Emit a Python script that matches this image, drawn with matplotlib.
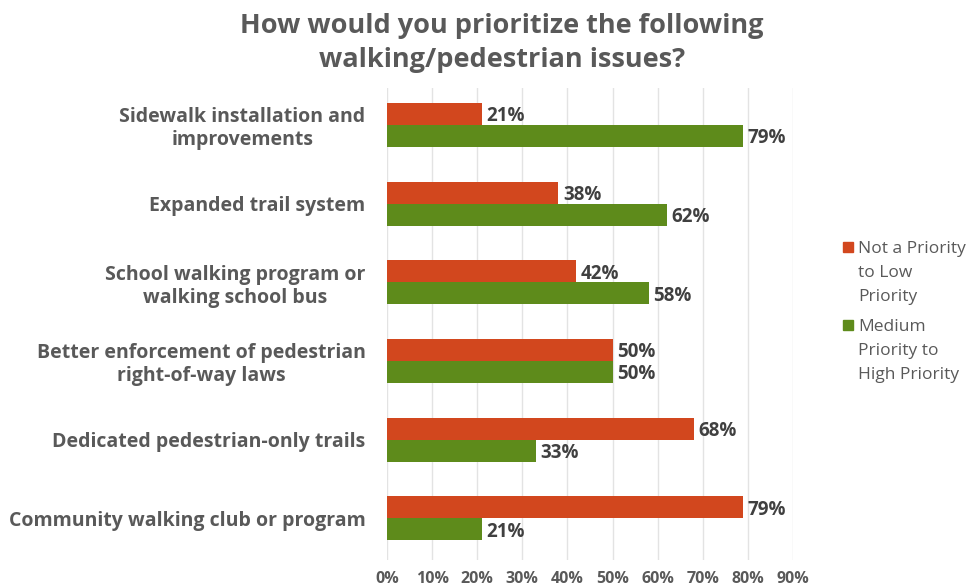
import matplotlib
matplotlib.use("Agg")
import matplotlib.pyplot as plt
import numpy as np
from matplotlib.patches import Rectangle
from matplotlib.ticker import FuncFormatter

plt.rcParams["font.family"] = ["Open Sans", "DejaVu Sans"]

# 数据
categories = [
    "Sidewalk installation and\nimprovements",
    "Expanded trail system",
    "School walking program or\nwalking school bus",
    "Better enforcement of pedestrian\nright-of-way laws",
    "Dedicated pedestrian-only trails",
    "Community walking club or program",
]
low_priority = [21, 38, 42, 50, 68, 79]
high_priority = [79, 62, 58, 50, 33, 21]
series_names = ["Not a Priority\nto Low\nPriority", "Medium\nPriority to\nHigh Priority"]
ticks = list(range(0, 91, 10))

RED = "#D2471E"
GREEN = "#5E8B1B"
TXT = "#595959"

fig = plt.figure(figsize=(9.69, 5.87), dpi=100)
ax = fig.add_axes([387 / 969, 1 - 560 / 587, 406 / 969, 472 / 587])

y = np.arange(len(categories))
h = 0.28
b1 = ax.barh(y - h / 2, low_priority, height=h, color=RED, zorder=3)
b2 = ax.barh(y + h / 2, high_priority, height=h, color=GREEN, zorder=3)

for bars, vals in ((b1, low_priority), (b2, high_priority)):
    for bar, v in zip(bars, vals):
        ax.text(v + 1.0, bar.get_y() + bar.get_height() / 2 + 0.03, f"{v}%",
                va="center", ha="left", fontsize=13.5, fontweight="bold", color="#404040")

ax.set_xlim(0, 90)
ax.set_ylim(5.53, -0.47)
ax.set_xticks(ticks)
ax.xaxis.set_major_formatter(FuncFormatter(lambda v, p: f"{v:.0f}%"))
ax.set_yticks(y)
ax.set_yticklabels(categories)
for lbl in ax.get_yticklabels():
    lbl.set_multialignment("center")
    lbl.set_fontweight("bold")
    lbl.set_fontsize(14)
    lbl.set_color(TXT)
for lbl in ax.get_xticklabels():
    lbl.set_fontweight("bold")
    lbl.set_fontsize(11.5)
    lbl.set_color(TXT)
ax.tick_params(axis="y", length=0, pad=15.5)
ax.tick_params(axis="x", length=0, pad=8)
ax.grid(axis="x", color="#e3e3e3", lw=1, zorder=0)
for s in ax.spines.values():
    s.set_visible(False)

fig.text(0.518, 0.978, "How would you prioritize the following\nwalking/pedestrian issues?",
         ha="center", va="top", fontsize=19.5, fontweight="bold", color=TXT,
         linespacing=1.4)

# 图例 (方块与首行对齐)
legend_rows = [(series_names[0], RED, 247), (series_names[1], GREEN, 325)]
for name, col, ypx in legend_rows:
    fig.patches.append(Rectangle((843 / 969, 1 - (ypx + 5) / 587), 10 / 969, 10 / 587,
                                 transform=fig.transFigure, color=col))
    fig.text(858 / 969, 1 - (ypx - 6) / 587, name, ha="left", va="top",
             fontsize=12.5, color=TXT, linespacing=1.66)

fig.savefig("out.png", dpi=100)
